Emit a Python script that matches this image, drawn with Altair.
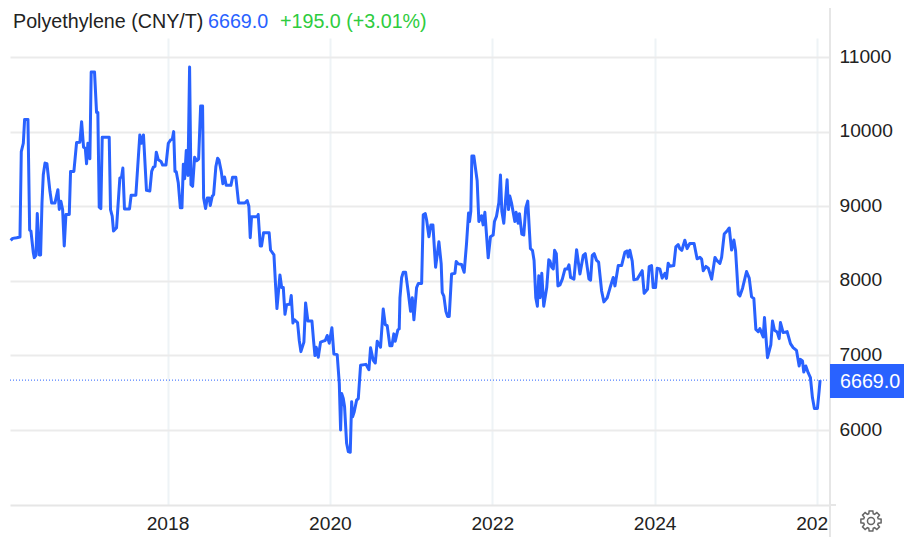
import math
import altair as alt
import pandas as pd

years = [
2016.068,2016.093,2016.142,2016.183,2016.199,2016.224,2016.240,2016.281,2016.302,2016.318,2016.347,2016.359,2016.380,2016.396,2016.421,2016.437,2016.454,2016.470,2016.491,2016.515,2016.552,2016.573,2016.614,2016.650,2016.667,2016.687,2016.708,2016.728,2016.749,2016.790,2016.806,2016.847,2016.880,2016.921,2016.942,2016.966,2016.987,2017.003,2017.019,2017.044,2017.060,2017.101,2017.126,2017.142,2017.159,2017.179,2017.196,2017.282,2017.298,2017.319,2017.335,2017.372,2017.413,2017.434,2017.450,2017.470,2017.532,2017.552,2017.610,2017.659,2017.680,2017.704,2017.741,2017.782,
2017.805,2017.826,2017.846,2017.862,2017.887,2017.920,2017.940,2017.981,2018.010,2018.039,2018.059,2018.076,2018.092,2018.108,2018.133,2018.158,2018.178,2018.195,2018.211,2018.231,2018.252,2018.272,2018.289,2018.309,2018.334,2018.359,2018.383,2018.408,2018.432,2018.445,2018.469,2018.490,2018.514,2018.527,2018.551,2018.568,2018.596,2018.617,2018.633,2018.662,2018.682,2018.703,2018.723,2018.781,2018.801,2018.842,2018.875,2018.953,2018.982,2019.002,2019.019,2019.035,2019.105,2019.117,2019.142,2019.158,2019.183,2019.252,2019.269,2019.311,
2019.332,2019.348,2019.385,2019.406,2019.426,2019.447,2019.467,2019.508,2019.524,2019.545,2019.561,2019.602,2019.623,2019.643,2019.680,2019.701,2019.729,2019.779,2019.799,2019.816,2019.832,2019.857,2019.885,2019.918,2019.943,2019.967,2019.992,2020.025,2020.049,2020.090,
2020.116,2020.132,2020.145,2020.165,2020.181,2020.206,2020.227,2020.251,2020.268,2020.280,2020.300,2020.329,2020.350,2020.378,2020.444,2020.481,2020.501,2020.534,2020.559,2020.583,2020.624,2020.657,2020.682,2020.706,2020.739,2020.764,2020.788,2020.805,2020.837,2020.854,
2020.863,2020.884,2020.904,2020.933,2020.966,2020.994,2021.015,2021.035,2021.068,2021.089,2021.130,2021.150,2021.175,2021.191,2021.220,2021.244,2021.269,2021.302,2021.343,2021.371,2021.384,2021.404,2021.429,2021.449,2021.470,2021.499,2021.540,2021.556,2021.581,2021.622,2021.654,2021.683,2021.708,2021.720,2021.736,2021.749,2021.773,2021.814,2021.835,2021.868,2021.888,2021.909,2021.950,2021.978,2022.011,2022.027,2022.052,2022.081,2022.101,2022.118,2022.142,2022.183,2022.200,2022.216,2022.237,2022.278,2022.294,2022.319,2022.335,2022.364,2022.388,2022.413,2022.437,2022.470,2022.495,2022.515,2022.536,2022.556,2022.573,2022.589,2022.610,2022.634,2022.671,2022.696,
2022.711,2022.732,2022.752,2022.768,2022.789,2022.809,2022.834,2022.863,2022.896,2022.924,2022.945,2022.965,2023.006,2023.039,2023.080,2023.121,2023.146,2023.191,2023.211,2023.232,2023.256,2023.285,2023.310,2023.347,2023.375,2023.416,2023.449,2023.490,2023.511,2023.552,2023.593,2023.634,2023.662,2023.675,2023.695,2023.724,2023.744,2023.785,2023.847,2023.871,2023.912,2023.933,2023.962,2023.982,2024.011,2024.031,2024.064,2024.093,2024.126,2024.146,2024.167,2024.187,2024.236,2024.261,2024.290,2024.310,2024.335,2024.372,2024.400,2024.433,2024.486,2024.523,
2024.558,2024.579,2024.599,2024.632,2024.661,2024.702,2024.743,2024.763,2024.804,2024.825,2024.857,2024.894,2024.919,2024.948,2024.976,2024.997,2025.030,2025.050,2025.083,2025.132,2025.165,2025.194,2025.222,2025.247,2025.276,2025.296,2025.337,2025.353,2025.390,2025.431,2025.452,2025.476,2025.509,2025.534,2025.550,2025.583,2025.632,2025.673,2025.706,2025.747,2025.780,2025.796,2025.821,2025.837,2025.862,2025.891,2025.919,2025.944,2025.968,2026.005,2026.026,2026.038,
]
prices = [
8542,8569,8578,8587,9733,9844,10164,10164,8680,8667,8378,8311,8342,8902,8347,8347,9044,9422,9578,9569,9200,9044,9044,9222,8956,9067,8956,8467,8889,8889,9467,9467,9853,9858,10133,9791,9778,9569,9844,9636,10800,10800,10258,10258,8987,8969,9924,9924,8956,8867,8667,8711,9378,9391,9511,8964,8964,9147,9147,9956,9844,9956,9213,9204,
9467,9524,9533,9724,9622,9600,9551,9551,9844,9889,9898,10000,9467,9462,9311,8978,8978,9564,9369,9747,9413,10867,9289,9267,9658,9609,9631,10342,10342,9111,8969,9111,9111,9009,9133,9156,9533,9644,9622,9467,9302,9391,9280,9280,9387,9387,9044,9044,9076,9000,8578,8858,8858,8889,8467,8467,8644,8644,8413,8347,
7920,7628,8078,7911,7911,7551,7681,7686,7803,7434,7479,7439,7200,7051,7178,7704,7461,7461,7200,6998,7110,6975,7178,7191,7200,7267,7164,7371,7020,7011,
6622,6000,6489,6422,6311,5822,5711,5702,6378,6178,6244,6400,6422,6867,6880,6809,7102,6933,6898,7191,7111,7622,7413,7400,7129,7129,7289,7191,7342,7356,
7773,8045,8114,8114,7841,7591,7773,7477,7909,7964,7964,8886,8900,8818,8591,8750,8750,8182,8523,8227,7841,7795,7591,7523,7523,8091,8100,8259,8227,8218,8114,8500,8909,8795,8932,9673,9673,9341,8795,8873,8750,8918,8309,8591,8614,8795,8864,9045,9418,8932,8773,9355,8955,9136,9045,8795,8918,8773,8900,8627,8614,8977,9068,8432,8409,8273,7773,7659,8068,7773,8100,7659,7909,8282,
8264,8182,8159,8409,8364,7932,7945,8023,8159,8159,8214,8045,8023,8418,8091,8341,8364,8023,8009,8341,8364,8273,8250,7864,7718,7773,7900,8045,7932,8205,8205,8386,8400,8318,8409,8264,8014,8023,8136,7832,7886,8191,8205,7909,7909,8168,8159,8036,8100,8032,8236,8195,8205,8455,8486,8432,8409,8545,8432,8500,8500,8295,
8314,8291,8134,8193,8170,8022,8314,8278,8233,8314,8627,8672,8708,8412,8547,8403,7821,7798,7901,8125,8036,7785,7763,7350,7319,7359,7247,7507,6970,7140,7462,7337,7315,7225,7440,7306,7319,7158,7104,7068,6858,6947,6925,6777,6858,6768,6701,6432,6289,6289,6522,6669,
]
x_ticks = [2018, 2020, 2022, 2024, 2026]
y_ticks = [6000, 7000, 8000, 9000, 10000, 11000]
title_name = "Polyethylene (CNY/T)"
last_label = "6669.0"
change_label = "+195.0 (+3.01%)"

BLUE = "#2962ff"
FONT = "Liberation Sans"
W, H = 820, 467

n = min(len(years), len(prices))
df = pd.DataFrame({"year": years[:n], "price": prices[:n]})
xs = alt.Scale(domain=[2016.06, 2026.16], nice=False, zero=False)
ys = alt.Scale(domain=[4995, 11255], nice=False, zero=False)

line = alt.Chart(df).mark_line(color=BLUE, strokeWidth=3, interpolate="linear", strokeJoin="round").encode(
    x=alt.X("year:Q", scale=xs, title=None, axis=alt.Axis(
        values=x_ticks, format="d", grid=True, gridColor="#eef3f6", gridWidth=2,
        ticks=False, domain=True, domainColor="#e6e6e6", domainWidth=2,
        labelFontSize=19.2, labelFont=FONT, labelColor="#222222", labelPadding=9,
        labelOverlap=False, labelFlush=False, labelBound=False)),
    y=alt.Y("price:Q", scale=ys, title=None, axis=alt.Axis(
        orient="right", values=y_ticks, format="d", grid=True, gridColor="#ebebeb", gridWidth=2,
        ticks=False, domain=False, labelFontSize=19.2, labelFont=FONT, labelColor="#222222",
        labelPadding=9, labelOffset=-1, labelBound=False)),
)

one = pd.DataFrame({"a": [0]})
last = df.tail(1)

dotted = alt.Chart(last).mark_rule(color=BLUE, strokeWidth=1, strokeDash=[1, 2]).encode(
    y=alt.Y("price:Q", scale=ys), x=alt.value(0), x2=alt.value(W))
mask = alt.Chart(one).mark_rect(color="white").encode(
    x=alt.value(W), x2=alt.value(W + 12), y=alt.value(H + 2), y2=alt.value(H + 32))
vrule = alt.Chart(one).mark_rule(color="#e6e6e6", strokeWidth=2).encode(
    x=alt.value(W), y=alt.value(-38), y2=alt.value(H + 32))
stub = alt.Chart(one).mark_rule(color="#e6e6e6", strokeWidth=2).encode(
    x=alt.value(W), x2=alt.value(W + 6), y=alt.value(H))
tag = alt.Chart(one).mark_rect(color=BLUE).encode(
    x=alt.value(W), x2=alt.value(W + 81), y=alt.value(326), y2=alt.value(360))
tag_text = alt.Chart(one).mark_text(text=last_label, color="white", fontSize=19.7, font=FONT, align="left", baseline="middle").encode(
    x=alt.value(W + 10), y=alt.value(344))

def head(text, x, color):
    return alt.Chart(one).mark_text(text=text, color=color, fontSize=19.7, font=FONT, align="left", baseline="alphabetic").encode(
        x=alt.value(x), y=alt.value(-10))

# settings gear outline
pts = []
teeth = 8
for i in range(teeth):
    a = 2 * math.pi * i / teeth
    for da, r in [(-0.30, 0.72), (-0.18, 0.98), (0.18, 0.98), (0.30, 0.72)]:
        pts.append((r * math.cos(a + da), r * math.sin(a + da)))
gear_path = "M" + " L".join(f"{p[0]:.3f},{p[1]:.3f}" for p in pts) + " Z"
gear = alt.Chart(one).mark_point(shape=gear_path, size=441, color="#666666", strokeWidth=1.5, filled=False, opacity=1).encode(
    x=alt.value(861), y=alt.value(483))
hub = alt.Chart(one).mark_point(shape="circle", size=50, color="#666666", strokeWidth=1.5, filled=False, opacity=1).encode(
    x=alt.value(861), y=alt.value(483))

chart = alt.layer(
    line, dotted, mask, vrule, stub, tag, tag_text,
    head(title_name, 3, "#222222"), head(last_label, 198, BLUE), head(change_label, 270, "#2ecc40"),
    gear, hub,
).properties(
    width=W, height=H,
    autosize=alt.AutoSizeParams(type="none"),
    padding={"left": 2, "top": 30, "right": 74, "bottom": 32},
    background="white",
).configure_view(stroke=None)

chart.save("out.html", embed_options={"renderer": "svg", "actions": False})
